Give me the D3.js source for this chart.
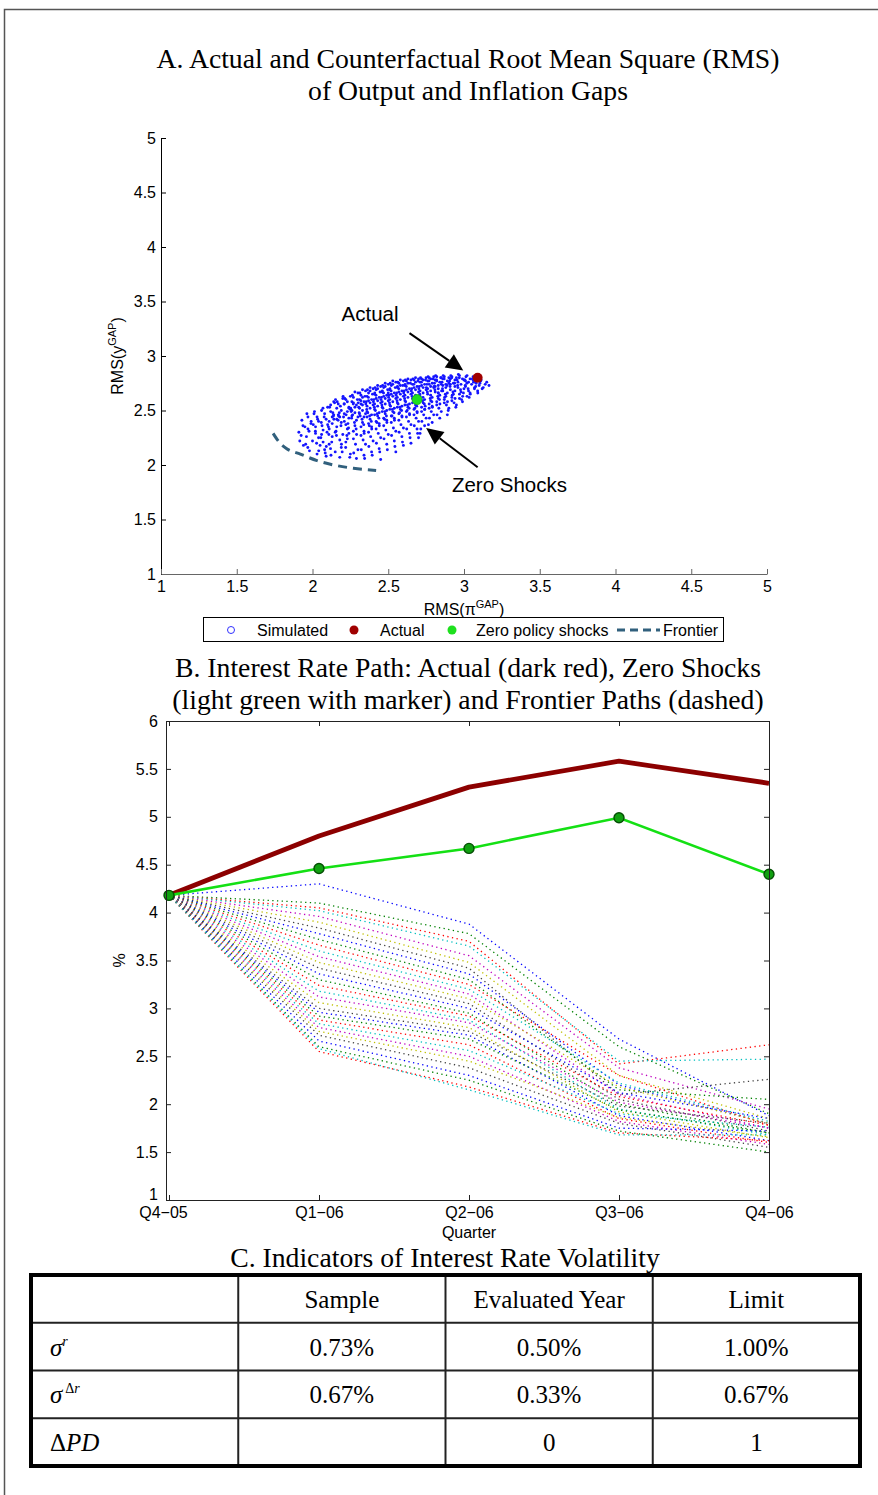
<!DOCTYPE html>
<html>
<head>
<meta charset="utf-8">
<script src="https://cdn.jsdelivr.net/npm/d3@7"></script>
<style>
  body { margin: 0; background: #fff; }
  svg { display: block; }
</style>
</head>
<body>
<div class="canvas"></div>
<script>
// ---- panel A data ----
const rmsTicks = [1, 1.5, 2, 2.5, 3, 3.5, 4, 4.5, 5];
// simulated (RMS pi gap, RMS y gap) pairs read off the cloud
const simulated = [
  [1.91,2.30],[1.93,2.41],[1.94,2.18],[1.95,2.35],
  [1.96,2.26],[1.97,2.44],[1.98,2.13],[1.99,2.38],[1.97,2.33],[2.00,2.22],
  [2.01,2.47],[2.02,2.29],[2.03,2.10],[2.04,2.40],[2.02,2.35],[2.05,2.18],[2.03,2.44],[2.04,2.25],
  [2.06,2.50],[2.07,2.32],[2.08,2.14],[2.09,2.42],[2.06,2.28],[2.10,2.37],[2.08,2.47],[2.07,2.21],[2.09,2.08],[2.10,2.53],
  [2.11,2.40],[2.12,2.55],[2.13,2.26],[2.14,2.46],[2.11,2.33],[2.15,2.12],[2.12,2.49],[2.13,2.38],[2.14,2.58],[2.15,2.30],[2.11,2.19],[2.13,2.44],
  [2.16,2.42],[2.17,2.56],[2.18,2.23],[2.19,2.50],[2.16,2.35],[2.20,2.61],[2.17,2.46],[2.18,2.07],[2.19,2.39],[2.20,2.28],[2.16,2.52],[2.18,2.44],[2.19,2.16],
  [2.21,2.47],[2.22,2.60],[2.23,2.33],[2.24,2.53],[2.21,2.40],[2.25,2.63],[2.22,2.21],[2.23,2.49],[2.24,2.43],[2.25,2.10],[2.21,2.56],[2.22,2.37],[2.24,2.29],[2.25,2.51],[2.23,2.58],
  [2.26,2.45],[2.27,2.62],[2.28,2.36],[2.29,2.55],[2.26,2.50],[2.30,2.66],[2.27,2.24],[2.28,2.48],[2.29,2.41],[2.30,2.14],[2.26,2.58],[2.27,2.31],[2.28,2.53],[2.29,2.06],[2.30,2.44],[2.27,2.57],
  [2.31,2.52],[2.32,2.64],[2.33,2.39],[2.34,2.58],[2.31,2.47],[2.35,2.68],[2.32,2.27],[2.33,2.55],[2.34,2.44],[2.35,2.19],[2.31,2.60],[2.32,2.35],[2.33,2.50],[2.34,2.09],[2.35,2.47],[2.32,2.56],[2.33,2.62],[2.34,2.31],
  [2.36,2.54],[2.37,2.66],[2.38,2.42],[2.39,2.60],[2.36,2.49],[2.40,2.70],[2.37,2.30],[2.38,2.57],[2.39,2.46],[2.40,2.22],[2.36,2.63],[2.37,2.38],[2.38,2.52],[2.39,2.12],[2.40,2.55],[2.37,2.59],[2.38,2.68],[2.39,2.35],[2.36,2.44],
  [2.41,2.56],[2.42,2.69],[2.43,2.45],[2.44,2.62],[2.41,2.51],[2.45,2.72],[2.42,2.33],[2.43,2.59],[2.44,2.48],[2.45,2.25],[2.41,2.65],[2.42,2.40],[2.43,2.54],[2.44,2.15],[2.45,2.57],[2.42,2.61],[2.43,2.70],[2.44,2.38],[2.41,2.46],[2.45,2.05],
  [2.46,2.58],[2.47,2.71],[2.48,2.47],[2.49,2.64],[2.46,2.53],[2.50,2.74],[2.47,2.36],[2.48,2.61],[2.49,2.50],[2.50,2.28],[2.46,2.67],[2.47,2.43],[2.48,2.56],[2.49,2.19],[2.50,2.59],[2.47,2.63],[2.48,2.72],[2.49,2.41],[2.46,2.49],[2.50,2.66],
  [2.51,2.60],[2.52,2.73],[2.53,2.49],[2.54,2.66],[2.51,2.55],[2.55,2.76],[2.52,2.39],[2.53,2.63],[2.54,2.52],[2.55,2.31],[2.51,2.69],[2.52,2.45],[2.53,2.58],[2.54,2.22],[2.55,2.61],[2.52,2.65],[2.53,2.74],[2.54,2.43],[2.51,2.51],[2.55,2.12],
  [2.56,2.62],[2.57,2.75],[2.58,2.51],[2.59,2.68],[2.56,2.57],[2.60,2.77],[2.57,2.41],[2.58,2.65],[2.59,2.54],[2.60,2.34],[2.56,2.71],[2.57,2.47],[2.58,2.60],[2.59,2.26],[2.60,2.63],[2.57,2.67],[2.58,2.73],[2.59,2.45],[2.56,2.53],[2.60,2.18],
  [2.61,2.64],[2.62,2.77],[2.63,2.53],[2.64,2.70],[2.61,2.59],[2.65,2.78],[2.62,2.44],[2.63,2.67],[2.64,2.56],[2.65,2.37],[2.61,2.73],[2.62,2.49],[2.63,2.62],[2.64,2.29],[2.65,2.65],[2.62,2.69],[2.63,2.75],[2.64,2.47],[2.61,2.55],[2.65,2.20],
  [2.66,2.66],[2.67,2.78],[2.68,2.55],[2.69,2.72],[2.66,2.61],[2.70,2.79],[2.67,2.46],[2.68,2.69],[2.69,2.58],[2.70,2.40],[2.66,2.74],[2.67,2.51],[2.68,2.64],[2.69,2.33],[2.70,2.67],[2.67,2.71],[2.68,2.76],[2.69,2.49],[2.66,2.57],[2.70,2.25],
  [2.71,2.68],[2.72,2.79],[2.73,2.57],[2.74,2.74],[2.71,2.63],[2.75,2.80],[2.72,2.49],[2.73,2.71],[2.74,2.60],[2.75,2.43],[2.71,2.76],[2.72,2.53],[2.73,2.66],[2.74,2.36],[2.75,2.69],[2.72,2.73],[2.73,2.78],[2.74,2.51],[2.71,2.29],
  [2.76,2.70],[2.77,2.80],[2.78,2.59],[2.79,2.75],[2.76,2.65],[2.80,2.81],[2.77,2.52],[2.78,2.72],[2.79,2.62],[2.80,2.46],[2.76,2.77],[2.77,2.56],[2.78,2.68],[2.79,2.39],[2.80,2.71],[2.77,2.74],[2.78,2.79],[2.79,2.54],
  [2.81,2.72],[2.82,2.81],[2.83,2.61],[2.84,2.76],[2.81,2.67],[2.85,2.80],[2.82,2.55],[2.83,2.73],[2.84,2.64],[2.85,2.49],[2.81,2.78],[2.82,2.58],[2.83,2.70],[2.84,2.43],[2.85,2.74],[2.82,2.77],[2.83,2.66],
  [2.86,2.73],[2.87,2.81],[2.88,2.63],[2.89,2.77],[2.86,2.68],[2.90,2.80],[2.87,2.57],[2.88,2.74],[2.89,2.66],[2.90,2.52],[2.86,2.79],[2.87,2.60],[2.88,2.71],[2.89,2.46],[2.90,2.75],
  [2.91,2.74],[2.92,2.81],[2.93,2.65],[2.94,2.78],[2.91,2.69],[2.95,2.80],[2.92,2.59],[2.93,2.75],[2.94,2.68],[2.95,2.55],[2.91,2.79],[2.92,2.62],[2.94,2.72],
  [2.96,2.76],[2.97,2.82],[2.98,2.67],[2.99,2.79],[2.96,2.71],[3.00,2.78],[2.97,2.61],[2.98,2.74],[2.99,2.58],[3.00,2.70],[2.97,2.65],
  [3.01,2.77],[3.02,2.82],[3.03,2.68],[3.04,2.79],[3.01,2.72],[3.05,2.74],[3.02,2.63],[3.03,2.76],[3.04,2.66],
  [3.06,2.78],[3.07,2.71],[3.08,2.75],[3.09,2.68],[3.06,2.81],[3.10,2.73],
  [3.11,2.77],[3.12,2.70],[3.14,2.74],[3.15,2.76],
  [1.925,2.27],[1.937,2.36],[1.916,2.22],
  [1.955,2.19],[1.977,2.31],[1.963,2.47],[1.991,2.40],[1.969,2.16],
  [2.005,2.37],[2.027,2.20],[2.013,2.49],[2.041,2.13],[2.019,2.31],[2.034,2.42],
  [2.055,2.25],[2.077,2.44],[2.063,2.36],[2.091,2.17],[2.069,2.52],[2.084,2.11],[2.058,2.39],[2.096,2.30],
  [2.105,2.35],[2.127,2.21],[2.113,2.53],[2.141,2.42],[2.119,2.15],[2.134,2.48],[2.108,2.28],[2.146,2.57],[2.122,2.09],[2.138,2.45],
  [2.155,2.31],[2.177,2.48],[2.163,2.58],[2.191,2.19],[2.169,2.41],[2.184,2.54],[2.158,2.27],[2.196,2.12],[2.172,2.45],[2.188,2.36],[2.152,2.60],
  [2.205,2.44],[2.227,2.27],[2.213,2.61],[2.241,2.52],[2.219,2.16],[2.234,2.38],[2.208,2.56],[2.246,2.07],[2.222,2.46],[2.238,2.34],[2.202,2.63],[2.230,2.24],
  [2.255,2.49],[2.277,2.39],[2.263,2.64],[2.291,2.28],[2.269,2.56],[2.284,2.19],[2.258,2.43],[2.296,2.60],[2.272,2.11],[2.288,2.33],[2.252,2.52],[2.280,2.67],[2.265,2.46],
  [2.305,2.53],[2.327,2.42],[2.313,2.66],[2.341,2.29],[2.319,2.59],[2.334,2.23],[2.308,2.48],[2.346,2.63],[2.322,2.14],[2.338,2.37],[2.302,2.57],[2.330,2.69],[2.315,2.45],[2.344,2.06],
  [2.355,2.58],[2.377,2.45],[2.363,2.69],[2.391,2.33],[2.369,2.62],[2.384,2.26],[2.358,2.51],[2.396,2.65],[2.372,2.17],[2.388,2.40],[2.352,2.56],[2.380,2.71],[2.365,2.48],[2.394,2.09],[2.375,2.36],
  [2.405,2.60],[2.427,2.47],[2.413,2.71],[2.441,2.36],[2.419,2.64],[2.434,2.29],[2.408,2.53],[2.446,2.67],[2.422,2.20],[2.438,2.43],[2.402,2.58],[2.430,2.73],[2.415,2.50],[2.444,2.12],[2.425,2.39],[2.411,2.66],
  [2.455,2.62],[2.477,2.49],[2.463,2.73],[2.491,2.39],[2.469,2.66],[2.484,2.32],[2.458,2.55],[2.496,2.69],[2.472,2.24],[2.488,2.45],[2.452,2.60],[2.480,2.75],[2.465,2.52],[2.494,2.14],[2.475,2.42],[2.461,2.68],
  [2.505,2.64],[2.527,2.51],[2.513,2.75],[2.541,2.41],[2.519,2.68],[2.534,2.34],[2.508,2.57],[2.546,2.71],[2.522,2.27],[2.538,2.48],[2.502,2.62],[2.530,2.77],[2.515,2.54],[2.544,2.17],[2.525,2.45],[2.511,2.70],
  [2.555,2.66],[2.577,2.53],[2.563,2.76],[2.591,2.44],[2.569,2.70],[2.584,2.37],[2.558,2.59],[2.596,2.73],[2.572,2.30],[2.588,2.50],[2.552,2.64],[2.580,2.78],[2.565,2.56],[2.594,2.21],[2.575,2.48],[2.561,2.72],
  [2.605,2.68],[2.627,2.55],[2.613,2.78],[2.641,2.46],[2.619,2.72],[2.634,2.40],[2.608,2.61],[2.646,2.75],[2.622,2.33],[2.638,2.52],[2.602,2.66],[2.630,2.79],[2.615,2.58],[2.644,2.25],[2.625,2.50],[2.611,2.74],
  [2.655,2.70],[2.677,2.57],[2.663,2.79],[2.691,2.48],[2.669,2.74],[2.684,2.43],[2.658,2.63],[2.696,2.77],[2.672,2.36],[2.688,2.54],[2.652,2.68],[2.680,2.80],[2.665,2.60],[2.694,2.29],[2.675,2.52],
  [2.705,2.72],[2.727,2.59],[2.713,2.80],[2.741,2.51],[2.719,2.76],[2.734,2.46],[2.708,2.65],[2.746,2.78],[2.722,2.40],[2.738,2.56],[2.702,2.70],[2.730,2.62],[2.715,2.33],[2.744,2.54],
  [2.755,2.74],[2.777,2.61],[2.763,2.81],[2.791,2.53],[2.769,2.77],[2.784,2.49],[2.758,2.67],[2.796,2.79],[2.772,2.43],[2.788,2.58],[2.752,2.71],[2.780,2.64],[2.765,2.37],
  [2.805,2.75],[2.827,2.63],[2.813,2.82],[2.841,2.56],[2.819,2.78],[2.834,2.52],[2.808,2.69],[2.846,2.80],[2.822,2.46],[2.838,2.60],[2.802,2.72],[2.830,2.66],
  [2.855,2.76],[2.877,2.65],[2.863,2.82],[2.891,2.58],[2.869,2.79],[2.884,2.55],[2.858,2.70],[2.896,2.50],[2.872,2.62],[2.888,2.73],[2.852,2.68],
  [2.905,2.77],[2.927,2.67],[2.913,2.82],[2.941,2.61],[2.919,2.80],[2.934,2.57],[2.908,2.72],[2.946,2.53],[2.922,2.64],[2.938,2.75],
  [2.955,2.78],[2.977,2.69],[2.963,2.83],[2.991,2.63],[2.969,2.80],[2.984,2.60],[2.958,2.73],[2.996,2.66],
  [3.005,2.78],[3.027,2.70],[3.013,2.81],[3.041,2.65],[3.019,2.75],[3.034,2.62],[3.008,2.73],
  [3.055,2.79],[3.077,2.72],[3.063,2.76],[3.091,2.66],[3.069,2.70],
  [3.105,2.75],[3.127,2.71],[3.113,2.78],[3.165,2.73]
];
const actualPoint = [3.09, 2.80];
const zeroShockPoint = [2.69, 2.60];
const frontierCurve = [[1.74,2.29],[1.78,2.21],[1.83,2.15],[1.92,2.10],[2.03,2.04],[2.14,2.00],[2.27,1.97],[2.42,1.95]];
const legendLabels = ["Simulated", "Actual", "Zero policy shocks", "Frontier"];

// ---- panel B data ----
const quarters = ["Q4\u221205", "Q1\u221206", "Q2\u221206", "Q3\u221206", "Q4\u221206"];
const rateTicks = [1, 1.5, 2, 2.5, 3, 3.5, 4, 4.5, 5, 5.5, 6];
const actualPath = [4.18, 4.80, 5.31, 5.58, 5.35];
const zeroShockPath = [4.18, 4.46, 4.67, 4.99, 4.40];
const frontierPaths = [
  [4.18, 4.30, 3.88, 2.68, 1.88],
  [4.18, 4.10, 3.78, 2.60, 1.90],
  [4.18, 4.05, 3.70, 2.42, 2.62],
  [4.18, 4.02, 3.65, 2.45, 2.47],
  [4.18, 3.96, 3.55, 2.38, 1.95],
  [4.18, 3.90, 3.48, 2.30, 1.85],
  [4.18, 3.84, 3.42, 2.10, 2.26],
  [4.18, 3.78, 3.36, 2.20, 1.80],
  [4.18, 3.72, 3.30, 2.15, 2.05],
  [4.18, 3.66, 3.25, 2.30, 1.78],
  [4.18, 3.60, 3.20, 2.22, 1.82],
  [4.18, 3.54, 3.15, 2.10, 1.75],
  [4.18, 3.48, 3.10, 2.18, 1.80],
  [4.18, 3.42, 3.05, 2.05, 1.72],
  [4.18, 3.36, 3.00, 2.12, 1.85],
  [4.18, 3.30, 2.95, 2.00, 1.70],
  [4.18, 3.24, 2.92, 2.08, 1.78],
  [4.18, 3.18, 2.88, 1.95, 1.68],
  [4.18, 3.12, 2.85, 2.02, 1.75],
  [4.18, 3.06, 2.80, 1.92, 1.65],
  [4.18, 3.00, 2.76, 1.98, 1.80],
  [4.18, 2.96, 2.72, 1.88, 1.62],
  [4.18, 2.92, 2.68, 1.94, 1.70],
  [4.18, 2.88, 2.62, 1.85, 1.60],
  [4.18, 2.84, 2.56, 1.90, 1.76],
  [4.18, 2.80, 2.50, 1.82, 1.58],
  [4.18, 2.76, 2.45, 1.86, 1.66],
  [4.18, 2.72, 2.38, 1.80, 1.55],
  [4.18, 2.66, 2.30, 1.75, 1.72],
  [4.18, 2.60, 2.25, 1.72, 1.50],
  [4.18, 2.55, 2.18, 1.70, 1.62],
  [4.18, 2.58, 2.15, 1.68, 1.68]
];
const pathColors = ["#0000ff", "#008000", "#ff0000", "#00bfbf", "#bf00bf", "#bfbf00", "#404040"];

// ---- panel C data ----
const tableHeader = ["", "Sample", "Evaluated Year", "Limit"];
const tableRows = [
  ["sr", "0.73%", "0.50%", "1.00%"],
  ["sdr", "0.67%", "0.33%", "0.67%"],
  ["dpd", "", "0", "1"]
];

const W = 878, H = 1495;
const serif = "'Liberation Serif', 'Times New Roman', serif";
const sans = "'Liberation Sans', Arial, sans-serif";
const tickFont = 16;

const svg = d3.select('.canvas').append('svg')
  .attr('width', W).attr('height', H)
  .attr('font-family', sans);

svg.append('rect').attr('width', W).attr('height', H).attr('fill', '#fff');

// page frame
svg.append('path')
  .attr('d', `M4.5,${H} L4.5,9.5 L${W},9.5`)
  .attr('fill', 'none').attr('stroke', '#555').attr('stroke-width', 1.5);

// ================= Panel A =================
const titleA = ["A. Actual and Counterfactual Root Mean Square (RMS)", "of Output and Inflation Gaps"];
svg.append('g').selectAll('text').data(titleA).enter().append('text')
  .attr('x', 468).attr('y', (d, i) => 68 + i * 32)
  .attr('text-anchor', 'middle').attr('font-family', serif).attr('font-size', 27.7)
  .text(d => d);

const xA = d3.scaleLinear().domain([1, 5]).range([161, 767]);
const yA = d3.scaleLinear().domain([1, 5]).range([574, 138]);

const gA = svg.append('g');

const axLeftA = gA.append('g').attr('transform', `translate(${xA(1)},0)`)
  .call(d3.axisLeft(yA).tickValues(rmsTicks).tickSizeInner(-5).tickSizeOuter(0).tickPadding(5).tickFormat(d => d));
axLeftA.selectAll('text').attr('font-size', tickFont).attr('font-family', sans).attr('fill', '#000');
axLeftA.selectAll('line, path').attr('stroke', '#000');

const axBottomA = gA.append('g').attr('transform', `translate(0,${yA(1)})`)
  .call(d3.axisBottom(xA).tickValues(rmsTicks).tickSizeInner(-5).tickSizeOuter(0).tickPadding(7).tickFormat(d => d));
axBottomA.selectAll('text').attr('font-size', tickFont).attr('font-family', sans).attr('fill', '#000');
axBottomA.selectAll('line, path').attr('stroke', '#666');

// axis labels
const ylabA = gA.append('text')
  .attr('transform', `translate(123,${yA(3)}) rotate(-90)`)
  .attr('text-anchor', 'middle').attr('font-size', tickFont);
ylabA.append('tspan').text('RMS(y');
ylabA.append('tspan').attr('font-size', 11).attr('dy', -7).text('GAP');
ylabA.append('tspan').attr('dy', 7).text(')');

const xlabA = gA.append('text')
  .attr('x', xA(3)).attr('y', 615)
  .attr('text-anchor', 'middle').attr('font-size', tickFont);
xlabA.append('tspan').text('RMS(\u03c0');
xlabA.append('tspan').attr('font-size', 11).attr('dy', -7).text('GAP');
xlabA.append('tspan').attr('dy', 7).text(')');

// simulated cloud
gA.append('g').selectAll('circle').data(simulated).enter().append('circle')
  .attr('cx', d => xA(d[0])).attr('cy', d => yA(d[1]))
  .attr('r', 1.45).attr('fill', '#1414ff');

// frontier
gA.append('path').datum(frontierCurve)
  .attr('d', d3.line().x(d => xA(d[0])).y(d => yA(d[1])).curve(d3.curveMonotoneX))
  .attr('fill', 'none').attr('stroke', '#31607d').attr('stroke-width', 3)
  .attr('stroke-dasharray', '9,6');

gA.append('circle').attr('cx', xA(actualPoint[0])).attr('cy', yA(actualPoint[1]))
  .attr('r', 5).attr('fill', '#a00000');
gA.append('circle').attr('cx', xA(zeroShockPoint[0])).attr('cy', yA(zeroShockPoint[1]))
  .attr('r', 5).attr('fill', '#1ee01e').attr('stroke', '#16b016').attr('stroke-width', 0.8);

// annotations with arrows
function arrow(from, to) {
  const x1 = xA(from[0]), y1 = yA(from[1]), x2 = xA(to[0]), y2 = yA(to[1]);
  const a = Math.atan2(y2 - y1, x2 - x1);
  const len = 17, half = 8;
  const bx = x2 - len * Math.cos(a), by = y2 - len * Math.sin(a);
  gA.append('line').attr('x1', x1).attr('y1', y1).attr('x2', bx).attr('y2', by)
    .attr('stroke', '#000').attr('stroke-width', 2);
  gA.append('path')
    .attr('d', `M${x2},${y2} L${bx + half * Math.sin(a)},${by - half * Math.cos(a)} L${bx - half * Math.sin(a)},${by + half * Math.cos(a)} Z`)
    .attr('fill', '#000');
}
gA.append('text').attr('x', xA(2.38)).attr('y', yA(3.32)).attr('text-anchor', 'middle')
  .attr('font-size', 20.5).text('Actual');
arrow([2.64, 3.21], [2.995, 2.866]);
gA.append('text').attr('x', xA(3.30)).attr('y', yA(1.75)).attr('text-anchor', 'middle')
  .attr('font-size', 20.5).text('Zero Shocks');
arrow([3.09, 1.98], [2.75, 2.34]);

// legend
const legA = gA.append('g');
legA.append('rect').attr('x', 203.5).attr('y', 617.5).attr('width', 520).attr('height', 24)
  .attr('fill', '#fff').attr('stroke', '#000');
const legX = [257, 380, 476, 663];
legA.selectAll('text').data(legendLabels).enter().append('text')
  .attr('x', (d, i) => legX[i]).attr('y', 635.5).attr('font-size', tickFont).text(d => d);
legA.append('circle').attr('cx', 231).attr('cy', 630).attr('r', 3.5)
  .attr('fill', 'none').attr('stroke', '#3030ff');
legA.append('circle').attr('cx', 354).attr('cy', 630).attr('r', 4.5).attr('fill', '#a00000');
legA.append('circle').attr('cx', 452).attr('cy', 630).attr('r', 4.5).attr('fill', '#1ee01e');
legA.append('line').attr('x1', 617).attr('x2', 660).attr('y1', 630).attr('y2', 630)
  .attr('stroke', '#31607d').attr('stroke-width', 3).attr('stroke-dasharray', '8,5');

// ================= Panel B =================
const titleB = ["B. Interest Rate Path: Actual (dark red), Zero Shocks", "(light green with marker) and Frontier Paths (dashed)"];
svg.append('g').selectAll('text').data(titleB).enter().append('text')
  .attr('x', 468).attr('y', (d, i) => 677 + i * 32)
  .attr('text-anchor', 'middle').attr('font-family', serif).attr('font-size', 27.7)
  .text(d => d);

const xB = d3.scaleLinear().domain([-0.02, 4]).range([166, 769]);
const yB = d3.scaleLinear().domain([1, 6]).range([1200, 721]);
const gB = svg.append('g');

const lineB = d3.line().x((d, i) => xB(i)).y(d => yB(d));

// frontier paths (dotted)
gB.append('g').selectAll('path').data(frontierPaths).enter().append('path')
  .attr('d', lineB)
  .attr('fill', 'none')
  .attr('stroke', (d, i) => pathColors[i % pathColors.length])
  .attr('stroke-width', 1.3)
  .attr('stroke-dasharray', '1.3,3.4');

gB.append('path').datum(actualPath).attr('d', lineB)
  .attr('fill', 'none').attr('stroke', '#8c0000').attr('stroke-width', 4.8)
  .attr('stroke-linejoin', 'round');
gB.append('path').datum(zeroShockPath).attr('d', lineB)
  .attr('fill', 'none').attr('stroke', '#14e014').attr('stroke-width', 2.6);
gB.append('g').selectAll('circle').data(zeroShockPath).enter().append('circle')
  .attr('cx', (d, i) => xB(i)).attr('cy', d => yB(d)).attr('r', 5)
  .attr('fill', '#10a010').attr('stroke', '#045004').attr('stroke-width', 1.4);

// axes box
const qIdx = [0, 1, 2, 3, 4];
const axLB = gB.append('g').attr('transform', `translate(${xB.range()[0]},0)`)
  .call(d3.axisLeft(yB).tickValues(rateTicks).tickSizeInner(-5).tickSizeOuter(0).tickPadding(8).tickFormat(d => d));
const axRB = gB.append('g').attr('transform', `translate(${xB.range()[1]},0)`)
  .call(d3.axisRight(yB).tickValues(rateTicks).tickSizeInner(-5).tickSizeOuter(0).tickFormat(''));
const axBB = gB.append('g').attr('transform', `translate(0,${yB(1)})`)
  .call(d3.axisBottom(xB).tickValues(qIdx).tickSizeInner(-5).tickSizeOuter(0).tickPadding(7).tickFormat(i => quarters[i]));
const axTB = gB.append('g').attr('transform', `translate(0,${yB(6)})`)
  .call(d3.axisTop(xB).tickValues(qIdx).tickSizeInner(-5).tickSizeOuter(0).tickFormat(''));
[axLB, axRB, axBB, axTB].forEach(ax => {
  ax.selectAll('text').attr('font-size', tickFont).attr('font-family', sans).attr('fill', '#000');
  ax.selectAll('line, path').attr('stroke', '#222');
});
// lowest y label sits just above the first quarter label
axLB.selectAll('.tick').filter(d => d === 1).select('text').attr('dy', '-0.05em');
axBB.selectAll('.tick').filter(d => d === 0).select('text').attr('dx', '-6');

gB.append('text').attr('transform', `translate(125,${yB(3.5)}) rotate(-90)`)
  .attr('text-anchor', 'middle').attr('font-size', tickFont).text('%');
gB.append('text').attr('x', xB(2)).attr('y', 1238).attr('text-anchor', 'middle')
  .attr('font-size', tickFont).text('Quarter');

// ================= Panel C =================
svg.append('text').attr('x', 445).attr('y', 1267).attr('text-anchor', 'middle')
  .attr('font-family', serif).attr('font-size', 27.7)
  .text('C. Indicators of Interest Rate Volatility');

const colX = d3.scaleBand().domain(d3.range(4)).range([31, 860]);
const rowY = d3.scaleBand().domain(d3.range(4)).range([1275, 1466]);
const gC = svg.append('g').attr('font-family', serif).attr('font-size', 25);

// inner grid lines
gC.append('g').selectAll('line.v').data([1, 2, 3]).enter().append('line')
  .attr('x1', d => colX(d)).attr('x2', d => colX(d))
  .attr('y1', rowY.range()[0]).attr('y2', rowY.range()[1])
  .attr('stroke', '#222').attr('stroke-width', 2);
gC.append('g').selectAll('line.h').data([1, 2, 3]).enter().append('line')
  .attr('y1', d => rowY(d)).attr('y2', d => rowY(d))
  .attr('x1', colX.range()[0]).attr('x2', colX.range()[1])
  .attr('stroke', '#222').attr('stroke-width', 2);
gC.append('rect').attr('x', 31).attr('y', 1275).attr('width', 829).attr('height', 191)
  .attr('fill', 'none').attr('stroke', '#000').attr('stroke-width', 4);

gC.selectAll('text.h').data(tableHeader).enter().append('text')
  .attr('x', (d, i) => colX(i) + colX.bandwidth() / 2)
  .attr('y', rowY(0) + rowY.bandwidth() / 2 + 9)
  .attr('text-anchor', 'middle').text(d => d);

tableRows.forEach((row, r) => {
  const yy = rowY(r + 1) + rowY.bandwidth() / 2 + 9;
  row.slice(1).forEach((v, c) => {
    gC.append('text').attr('x', colX(c + 1) + colX.bandwidth() / 2).attr('y', yy)
      .attr('text-anchor', 'middle').text(v);
  });
  const lab = gC.append('text').attr('x', 50).attr('y', yy);
  if (row[0] === 'sr') {
    lab.append('tspan').attr('font-style', 'italic').text('\u03c3');
    lab.append('tspan').attr('font-style', 'italic').attr('font-size', 14).attr('dy', -10).text('r');
  } else if (row[0] === 'sdr') {
    lab.append('tspan').attr('font-style', 'italic').text('\u03c3');
    lab.append('tspan').attr('font-size', 14).attr('dy', -10).attr('dx', 3).text('\u0394');
    lab.append('tspan').attr('font-style', 'italic').attr('font-size', 14).text('r');
  } else {
    lab.append('tspan').text('\u0394');
    lab.append('tspan').attr('font-style', 'italic').text('PD');
  }
});
</script>
</body>
</html>
